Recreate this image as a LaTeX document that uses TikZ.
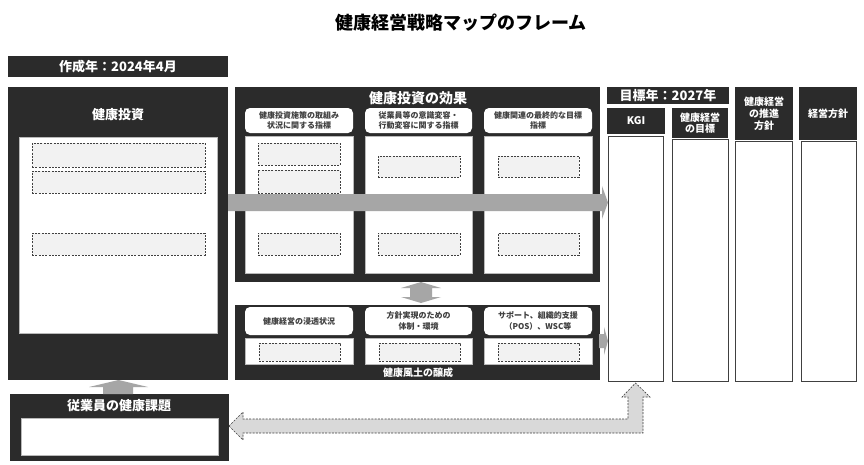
\documentclass[tikz,border=0pt]{standalone}
\usepackage{fontspec}
\setmainfont{Noto Sans CJK JP}
\definecolor{dark}{HTML}{2B2B2B}
\definecolor{arrowgray}{HTML}{A6A6A6}
\definecolor{dashfill}{HTML}{F2F2F2}
\definecolor{lfill}{HTML}{D9D9D9}
\definecolor{txt}{HTML}{404040}
\tikzset{
  rbox/.style={anchor=north west, inner sep=0pt, outer sep=0pt},
  darkbox/.style={rbox, fill=dark},
  whitecol/.style={rbox, fill=white, draw=gray!55, line width=0.6pt},
  goalcol/.style={rbox, fill=white, draw=txt, line width=0.9pt},
  dashbox/.style={rbox, fill=dashfill, draw=txt, dash pattern=on 2pt off 1.3pt, line width=0.6pt},
  hdr/.style={rbox, fill=white, rounded corners=5pt, font=\bfseries\fontsize{8}{10.5}\selectfont, text=txt, align=center},
  wlabel/.style={text=white, font=\bfseries, inner sep=0pt, align=center},
  garrow/.style={fill=arrowgray},
  darrow/.style={fill=lfill, draw=txt, dash pattern=on 2pt off 1.3pt, line width=0.6pt}
}
\begin{document}
\begin{tikzpicture}[x=1pt,y=-1pt]
\useasboundingbox[fill=white] (0,0) rectangle (864,464);

% title
\node[inner sep=0pt, font=\bfseries\fontsize{18}{20}\selectfont] (title) at (461,23) {健康経営戦略マップのフレーム};

% start year
\node[darkbox, minimum width=220pt, minimum height=21pt, text=white, font=\bfseries\fontsize{13}{15}\selectfont] (startyear) at (8,56) {作成年：2024年4月};

% health investment
\node[darkbox, minimum width=220pt, minimum height=293pt] (invest) at (8,87) {};
\node[wlabel, font=\bfseries\fontsize{13}{15}\selectfont] (investlbl) at (118,115) {健康投資};
\node[whitecol, minimum width=198pt, minimum height=196pt] (investin) at (19,137) {};
\node[dashbox, minimum width=173pt, minimum height=24pt] (inv1) at (32,143) {};
\node[dashbox, minimum width=173pt, minimum height=22pt] (inv2) at (32,171) {};
\node[dashbox, minimum width=173pt, minimum height=22pt] (inv3) at (32,233) {};

% effect
\node[darkbox, minimum width=365pt, minimum height=195pt] (effect) at (235,87) {};
\node[wlabel, font=\bfseries\fontsize{14}{16}\selectfont] (effectlbl) at (418,98) {健康投資の効果};
\node[hdr, minimum width=108pt, minimum height=25pt] (eh1) at (245,108) {健康投資施策の取組み\\状況に関する指標};
\node[hdr, minimum width=107pt, minimum height=25pt] (eh2) at (365,108) {従業員等の意識変容・\\行動変容に関する指標};
\node[hdr, minimum width=108pt, minimum height=25pt] (eh3) at (484,108) {健康関連の最終的な目標\\指標};
\node[whitecol, minimum width=108pt, minimum height=137pt] (ec1) at (245,136) {};
\node[whitecol, minimum width=107pt, minimum height=137pt] (ec2) at (365,136) {};
\node[whitecol, minimum width=108pt, minimum height=137pt] (ec3) at (484,136) {};
\node[dashbox, minimum width=82pt, minimum height=22pt] (e11) at (258,143) {};
\node[dashbox, minimum width=82pt, minimum height=23pt] (e12) at (258,170) {};
\node[dashbox, minimum width=82pt, minimum height=22pt] (e13) at (258,233) {};
\node[dashbox, minimum width=82pt, minimum height=21pt] (e21) at (378,156) {};
\node[dashbox, minimum width=82pt, minimum height=22pt] (e22) at (378,233) {};
\node[dashbox, minimum width=81pt, minimum height=21pt] (e31) at (498,156) {};
\node[dashbox, minimum width=81pt, minimum height=22pt] (e32) at (498,233) {};

% culture
\node[darkbox, minimum width=365pt, minimum height=75pt] (culture) at (235,305) {};
\node[hdr, minimum width=108pt, minimum height=28pt] (ch1) at (245,307) {健康経営の浸透状況};
\node[hdr, minimum width=107pt, minimum height=28pt] (ch2) at (365,307) {方針実現のための\\体制・環境};
\node[hdr, minimum width=108pt, minimum height=28pt] (ch3) at (484,307) {サポート、組織的支援\\（POS）、WSC等};
\node[whitecol, minimum width=108pt, minimum height=26pt] (cc1) at (245,338) {};
\node[whitecol, minimum width=107pt, minimum height=26pt] (cc2) at (365,338) {};
\node[whitecol, minimum width=108pt, minimum height=26pt] (cc3) at (484,338) {};
\node[dashbox, minimum width=81pt, minimum height=18pt] (c1) at (259,343) {};
\node[dashbox, minimum width=81pt, minimum height=18pt] (c2) at (379,343) {};
\node[dashbox, minimum width=81pt, minimum height=18pt] (c3) at (498,343) {};
\node[wlabel, font=\bfseries\fontsize{10}{12}\selectfont] (culturelbl) at (418,373) {健康風土の醸成};

% target side
\node[darkbox, minimum width=122pt, minimum height=17pt, text=white, font=\bfseries\fontsize{13}{15}\selectfont] (targetyear) at (607,87) {目標年：2027年};
\node[darkbox, minimum width=58pt, minimum height=26pt, text=white, font=\bfseries\fontsize{10.5}{12}\selectfont] (kgih) at (607,108) {KGI};
\node[goalcol, minimum width=55pt, minimum height=245pt] (kgi) at (608,136) {};
\node[darkbox, minimum width=56pt, minimum height=30pt, text=white, align=center, font=\bfseries\fontsize{10}{11.5}\selectfont] (goalh) at (672,108) {健康経営\\の目標};
\node[goalcol, minimum width=56pt, minimum height=242pt] (goal) at (672,139) {};
\node[darkbox, minimum width=58pt, minimum height=53pt, text=white, align=center, font=\bfseries\fontsize{10}{12}\selectfont] (promoh) at (735,87) {健康経営\\の推進\\方針};
\node[goalcol, minimum width=57pt, minimum height=240pt] (promo) at (735,141) {};
\node[darkbox, minimum width=58pt, minimum height=53pt, text=white, font=\bfseries\fontsize{10}{12}\selectfont] (policyh) at (799,87) {経営方針};
\node[goalcol, minimum width=55pt, minimum height=240pt] (policy) at (801,141) {};

% employee health issues
\node[darkbox, minimum width=219pt, minimum height=67pt] (issue) at (10,394) {};
\node[wlabel, font=\bfseries\fontsize{13}{15}\selectfont] (issuelbl) at (119,406) {従業員の健康課題};
\node[whitecol, minimum width=197pt, minimum height=37pt] (issuein) at (21,418) {};

% block arrows
\fill[garrow] (228,194) -- (602,194) -- (602,186) -- (608,202.5) -- (602,219) -- (602,211) -- (228,211) -- cycle;
\fill[garrow] (421,282) -- (441,288) -- (432,288) -- (432,297) -- (441,297) -- (421,303) -- (401,297) -- (410,297) -- (410,288) -- (401,288) -- cycle;
\fill[garrow] (599,334) -- (604,334) -- (604,327) -- (608,341) -- (604,355) -- (604,348) -- (599,348) -- cycle;
\fill[garrow] (118.5,380) -- (148,387) -- (133,387) -- (133,394) -- (103,394) -- (103,387) -- (89,387) -- cycle;
\filldraw[darrow] (229,426) -- (243,412) -- (243,419) -- (628,419) -- (628,397) -- (622,397) -- (635.5,383) -- (650,397) -- (643,397) -- (643,433) -- (243,433) -- (243,440) -- cycle;
\end{tikzpicture}
\end{document}
